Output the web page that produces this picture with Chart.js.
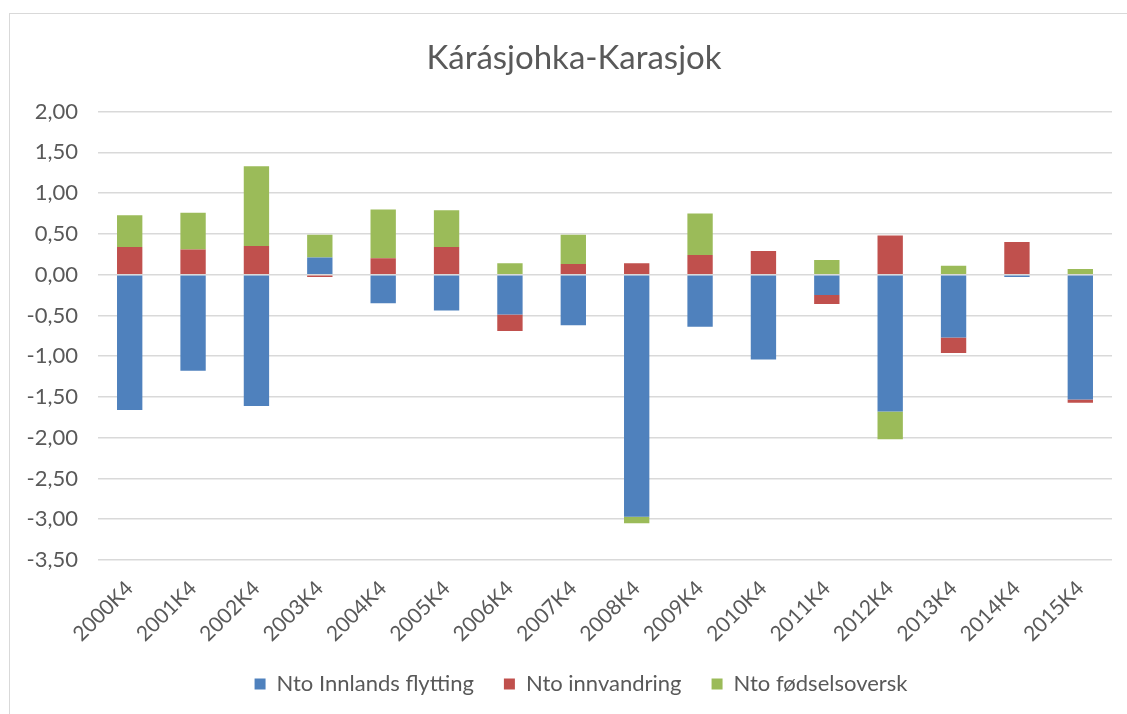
<!DOCTYPE html>
<html>
<head>
<meta charset="utf-8">
<script src="https://cdn.jsdelivr.net/npm/chart.js@4"></script>
<style>
  html, body { margin: 0; padding: 0; background: #fff; }
  #wrap { position: relative; width: 1127px; height: 714px; }
  #frame { position: absolute; left: 9px; top: 13px; width: 1130px; height: 720px; border: 1px solid #d9d9d9; box-sizing: border-box; pointer-events: none; }
</style>
</head>
<body>
<div id="wrap">
  <canvas id="chart" width="1127" height="714"></canvas>
  <div id="frame"></div>
</div>
<script>
const labels = ['2000K4', '2001K4', '2002K4', '2003K4', '2004K4', '2005K4', '2006K4', '2007K4',
  '2008K4', '2009K4', '2010K4', '2011K4', '2012K4', '2013K4', '2014K4', '2015K4'];
const innlands = [-1.66, -1.18, -1.61, 0.21, -0.35, -0.44, -0.49, -0.62, -2.97, -0.64, -1.04, -0.25, -1.68, -0.77, -0.03, -1.53];
const innvandring = [0.34, 0.31, 0.35, -0.03, 0.20, 0.34, -0.20, 0.13, 0.14, 0.24, 0.29, -0.11, 0.48, -0.19, 0.40, -0.04];
const fodsel = [0.39, 0.45, 0.98, 0.28, 0.60, 0.45, 0.14, 0.36, -0.08, 0.51, 0, 0.18, -0.34, 0.11, 0, 0.07];

const txt = '#595959';
const font = 'Lato, "Open Sans", sans-serif';

// the original has title and legend a bit right of the canvas centre
const nudge = {
  id: 'nudge',
  afterLayout(chart) {
    [[chart.titleBlock, 13], [chart.legend, 20]].forEach(([box, d]) => {
      box.left += d;
      box.right += d;
    });
  }
};

const ctx = document.getElementById('chart').getContext('2d');
new Chart(ctx, {
  type: 'bar',
  data: {
    labels,
    datasets: [
      { label: 'Nto Innlands flytting', data: innlands, backgroundColor: '#4f81bd' },
      { label: 'Nto innvandring', data: innvandring, backgroundColor: '#c0504d' },
      { label: 'Nto fødselsoversk', data: fodsel, backgroundColor: '#9bbb59' }
    ]
  },
  plugins: [nudge],
  options: {
    responsive: false,
    animation: false,
    layout: { padding: { left: 10, right: 15, top: 0, bottom: 9 } },
    datasets: { bar: { categoryPercentage: 1, barPercentage: 0.4 } },
    plugins: {
      title: {
        display: true,
        text: 'Kárásjohka-Karasjok',
        color: txt,
        font: { family: font, size: 33, weight: 'normal' },
        padding: { top: 39, bottom: 33 }
      },
      legend: {
        position: 'bottom',
        labels: {
          color: txt,
          font: { family: font, size: 22 },
          boxWidth: 11,
          boxHeight: 11,
          padding: 30
        }
      },
      tooltip: { enabled: false }
    },
    scales: {
      x: {
        stacked: true,
        grid: { display: false },
        border: { display: false },
        ticks: { color: txt, font: { family: font, size: 21 }, minRotation: 45, maxRotation: 45, padding: 8 },
        afterFit: s => { s.height = 83; }
      },
      y: {
        stacked: true,
        min: -3.5,
        max: 2,
        grid: { color: '#d9d9d9', lineWidth: 1.5, drawTicks: false },
        border: { display: false },
        ticks: {
          stepSize: 0.5,
          color: txt,
          font: { family: font, size: 22 },
          padding: 20,
          callback: v => v.toFixed(2).replace('.', ',')
        },
        afterFit: s => { s.width = 88; }
      }
    }
  }
});
</script>
</body>
</html>
